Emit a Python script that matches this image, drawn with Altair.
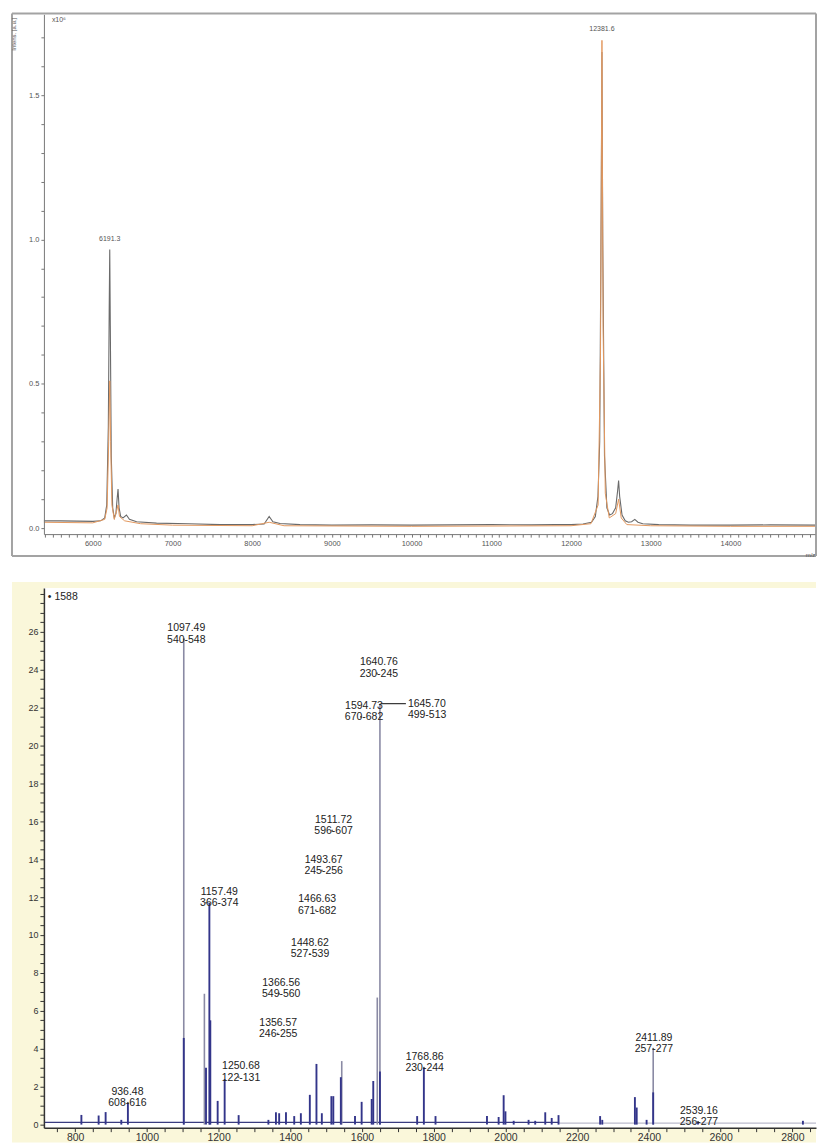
import altair as alt
import pandas as pd

# ---------------- top spectrum (linear MALDI, intensity x10^6) ----------------
gray_mz = [5387, 5600, 5800, 6000, 6100, 6150, 6175, 6195, 6206, 6213, 6220, 6232, 6250,
           6270, 6290, 6305, 6317, 6330, 6350, 6380, 6422, 6460, 6550, 6800, 7200, 7600,
           8000, 8150, 8213, 8260, 8350, 8600, 9000, 9500, 10000, 10500, 11000, 11500,
           11800, 12000, 12150, 12257, 12305, 12338, 12360, 12378, 12388, 12398, 12420,
           12450, 12484, 12520, 12560, 12585, 12597, 12610, 12640, 12680, 12720, 12760,
           12800, 12840, 12900, 13100, 13500, 14000, 14500, 15061]
gray_int = [0.025, 0.025, 0.024, 0.023, 0.025, 0.035, 0.08, 0.35, 0.75, 0.965, 0.7, 0.25, 0.07,
            0.035, 0.05, 0.1, 0.135, 0.07, 0.04, 0.035, 0.045, 0.03, 0.022, 0.017, 0.015, 0.012,
            0.012, 0.014, 0.04, 0.022, 0.016, 0.012, 0.01, 0.011, 0.01, 0.011, 0.012, 0.011,
            0.012, 0.012, 0.014, 0.02, 0.04, 0.11, 0.3, 1.1, 1.65, 1.0, 0.25,
            0.07, 0.045, 0.05, 0.07, 0.13, 0.165, 0.11, 0.045, 0.025, 0.02, 0.022,
            0.03, 0.02, 0.015, 0.012, 0.01, 0.01, 0.011, 0.01]
orange_mz = [5387, 6000, 6150, 6180, 6200, 6213, 6224, 6240, 6270, 6300, 6317, 6335, 6400,
             6600, 7000, 8000, 8213, 8400, 10000, 12000, 12250, 12340, 12370, 12388, 12402,
             12430, 12480, 12560, 12597, 12630, 12700, 13000, 14000, 15061]
orange_int = [0.02, 0.018, 0.03, 0.07, 0.3, 0.51, 0.3, 0.08, 0.03, 0.06, 0.08, 0.04, 0.025,
              0.015, 0.01, 0.008, 0.02, 0.008, 0.006, 0.008, 0.015, 0.08, 0.6, 1.69, 0.7,
              0.12, 0.035, 0.05, 0.1, 0.035, 0.012, 0.008, 0.006, 0.006]
top_label_text = ["6191.3", "12381.6"]
top_label_mz = [6213, 12388]
top_label_int = [0.965, 1.69]
top_x_ticks = list(range(5400, 15100, 100))
top_y_ticks = [round(i * 0.1, 1) for i in range(0, 18)]

# ---------------- bottom spectrum (tryptic peptides, x1588) ----------------
light_mz = [1103, 1160.5, 1543.5, 1642.6, 1650, 2412]
light_h = [25.6, 6.9, 3.35, 6.7, 22.2, 4.0]
dark_mz = [817.5, 865.6, 885.1, 928.8, 947.2, 1103, 1165, 1174.4, 1177, 1197.5, 1217, 1256,
           1339, 1360, 1369, 1388, 1411, 1429.5, 1454.5, 1473, 1488, 1514.6, 1520, 1541,
           1580.5, 1599, 1627, 1631.4, 1650, 1753.8, 1772.5, 1805, 1948.5, 1981, 1995,
           2000, 2023, 2064.5, 2083, 2111, 2129, 2148, 2264, 2270, 2361, 2366, 2393.6,
           2412, 2537, 2829.5]
dark_h = [0.51, 0.48, 0.66, 0.25, 1.15, 4.57, 3.0, 11.7, 5.5, 1.25, 2.4, 0.5,
          0.25, 0.65, 0.6, 0.65, 0.45, 0.6, 1.57, 3.2, 0.6, 1.5, 1.5, 2.5,
          0.45, 1.2, 1.35, 2.3, 2.8, 0.45, 3.0, 0.45, 0.45, 0.4, 1.55,
          0.7, 0.2, 0.25, 0.2, 0.65, 0.35, 0.5, 0.45, 0.25, 1.45, 0.9, 0.25,
          1.7, 0.15, 0.2]
lab_mass = ["936.48", "1097.49", "1157.49", "1250.68", "1356.57", "1366.56", "1448.62",
            "1466.63", "1493.67", "1511.72", "1594.73", "1640.76", "2411.89", "1768.86",
            "2539.16"]
lab_range = ["608-616", "540-548", "366-374", "122-131", "246-255", "549-560", "527-539",
             "671-682", "245-256", "596-607", "670-682", "230-245", "257-277", "230-244",
             "256-277"]
lab_text_mz = [946, 1110, 1202, 1262.6, 1366.4, 1374.7, 1455, 1475, 1493, 1520.7, 1605.6,
               1647, 2414, 1774.7, 2539.6]
lab_h = [1.15, 25.6, 11.7, 2.5, 4.8, 6.9, 9.0, 11.3, 13.4, 15.5, 21.5, 23.8, 4.0, 3.0, 0.15]
dot_mz = [947, 1103, 1165, 1256, 1364.4, 1369, 1454.5, 1471, 1488, 1516.6, 1597, 1641.7,
          2412, 1772.5, 2537]
side_label = ["1645.70\n499-513"]
side_label_mz = [1722.4]
side_from_mz = [1652]
side_h = [22.2]
scale_note = ["\u2022 1588"]
scale_note_mz = [724]
scale_note_h = [27.8]
base_mz_start = [713, 2150]
base_mz_end = [2150, 2866]
base_level = [0.12, 0.08]
bot_x_ticks = list(range(750, 2866, 50))
bot_y_ticks = [i * 0.5 for i in range(0, 57)]

FONT = "Liberation Sans"

# ---------------- top chart ----------------
TW, TH = 773, 521
tx = alt.X("mz:Q", scale=alt.Scale(domain=[5387, 15061], nice=False, zero=False),
           axis=alt.Axis(values=top_x_ticks, labelOverlap=False,
                         labelExpr="(datum.value % 1000 == 0 && datum.value < 15000) ? format(datum.value,'d') : ''",
                         tickSize=3, labelFontSize=7.5, labelColor="#555", domainColor="#777",
                         tickColor="#777", grid=False, labelPadding=2, labelFont=FONT,
                         title="m/z", titleFontSize=6, titleFontWeight="normal",
                         titleColor="#555", titleX=768, titleY=17, titleFont=FONT, zindex=2))
ty = alt.Y("v:Q", scale=alt.Scale(domain=[-0.021, 1.78], nice=False, zero=False),
           axis=alt.Axis(values=top_y_ticks, labelOverlap=False,
                         labelExpr="round(datum.value*10) % 5 == 0 ? format(datum.value,'.1f') : ''",
                         tickSize=3, labelFontSize=7.5, labelColor="#555", domainColor="#777",
                         tickColor="#777", grid=False, labelPadding=2, labelFont=FONT,
                         title="Intens. [a.u.]", titleFontSize=6, titleFontWeight="normal",
                         titleColor="#555", titleAngle=270, titleX=-30, titleY=3,
                         titleAlign="right", titleBaseline="middle", titleFont=FONT, zindex=2))

gdf = pd.DataFrame({"mz": gray_mz, "v": gray_int})
odf = pd.DataFrame({"mz": orange_mz, "v": orange_int})
tldf = pd.DataFrame({"mz": top_label_mz, "v": top_label_int, "t": top_label_text})
one = pd.DataFrame({"k": [0]})

gray_line = alt.Chart(gdf).mark_line(color="#6a6a6a", strokeWidth=1.1).encode(x=tx, y=ty)
orange_line = alt.Chart(odf).mark_line(color="#E3995F", strokeWidth=1.0).encode(x=tx, y=ty)
top_labels = alt.Chart(tldf).mark_text(fontSize=7, font=FONT, color="#555", baseline="bottom",
                                       dy=-8).encode(x=tx, y=ty, text="t:N")
x10 = alt.Chart(pd.DataFrame({"mz": [5487], "v": [1.759], "t": ["x10\u2076"]})).mark_text(
    fontSize=7, font=FONT, color="#555", align="left", baseline="middle").encode(x=tx, y=ty, text="t:N")
fcol = "#A3A3A3"
f1 = alt.Chart(one).mark_rule(color=fcol, strokeWidth=2).encode(
    x=alt.value(-32), y=alt.value(-1), y2=alt.value(543))
f2 = alt.Chart(one).mark_rule(color=fcol, strokeWidth=2).encode(
    x=alt.value(TW + 1), y=alt.value(-1), y2=alt.value(543))
f3 = alt.Chart(one).mark_rule(color=fcol, strokeWidth=2).encode(
    x=alt.value(-32), x2=alt.value(TW + 1), y=alt.value(-1))
f4 = alt.Chart(one).mark_rule(color=fcol, strokeWidth=2).encode(
    x=alt.value(-32), x2=alt.value(TW + 1), y=alt.value(543))

top = alt.layer(gray_line, orange_line, top_labels, x10, f1, f2, f3, f4).properties(
    width=TW, height=TH)

# ---------------- bottom chart ----------------
BW, BH = 774, 541
bx = alt.X("mz:Q", scale=alt.Scale(domain=[713, 2866], nice=False, zero=False),
           axis=alt.Axis(values=bot_x_ticks, labelOverlap=False,
                         labelExpr="datum.value % 200 == 0 ? format(datum.value,'d') : ''",
                         tickSize=4, labelFontSize=10.5, labelColor="#333", domainColor="#333",
                         tickColor="#333", grid=False, labelPadding=1, labelFont=FONT,
                         domainWidth=1.5, title=None, zindex=2))
by = alt.Y("h:Q", scale=alt.Scale(domain=[-0.16, 28.3], nice=False, zero=False),
           axis=alt.Axis(values=bot_y_ticks, labelOverlap=False,
                         labelExpr="(datum.value % 2 == 0 && datum.value < 27) ? format(datum.value,'d') : ''",
                         tickSize=4, labelFontSize=9, labelColor="#333", domainColor="#333",
                         tickColor="#333", grid=False, labelPadding=2, labelFont=FONT,
                         domainWidth=1.5, title=None, zindex=2))

ldf = pd.DataFrame({"mz": light_mz, "h": light_h, "b": [0.0] * len(light_mz)})
ddf = pd.DataFrame({"mz": dark_mz, "h": dark_h, "b": [0.0] * len(dark_mz)})
labdf = pd.DataFrame({"mz": lab_text_mz, "h": lab_h,
                      "t": [a + "\n" + b for a, b in zip(lab_mass, lab_range)]})
dotdf = pd.DataFrame({"mz": dot_mz, "h": lab_h})
conndf = pd.DataFrame({"mz": side_from_mz, "mz2": side_label_mz, "h": side_h})
sdf = pd.DataFrame({"mz": side_label_mz, "h": side_h, "t": side_label})
ndf = pd.DataFrame({"mz": scale_note_mz, "h": scale_note_h, "t": scale_note})
bdf = pd.DataFrame({"mz": base_mz_start, "mz2": base_mz_end, "h": base_level,
                    "c": ["#3a3c80", "#bbbbcc"]})

yellow = alt.Chart(one).mark_rect(color="#FAF7DA").encode(
    x=alt.value(-32), x2=alt.value(BW), y=alt.value(-6), y2=alt.value(BH + 15))
white = alt.Chart(one).mark_rect(color="#FFFFFF").encode(
    x=alt.value(0), x2=alt.value(BW), y=alt.value(0), y2=alt.value(BH))
baseline = alt.Chart(bdf).mark_rule(strokeWidth=1.2).encode(
    x=bx, x2="mz2:Q", y=by, color=alt.Color("c:N", scale=None))
light = alt.Chart(ldf).mark_rule(color="#8A8AA4", strokeWidth=1.6).encode(
    x=bx, y=by, y2="b:Q")
dark = alt.Chart(ddf).mark_rule(color="#33358A", strokeWidth=1.9).encode(
    x=bx, y=by, y2="b:Q")
dots = alt.Chart(dotdf).mark_square(size=3, color="#333", filled=True).encode(x=bx, y=by)
labels = alt.Chart(labdf).mark_text(fontSize=10.5, font=FONT, color="#222", baseline="bottom",
                                    lineBreak="\n", lineHeight=11.5, dy=-6).encode(
    x=bx, y=by, text="t:N")
conn = alt.Chart(conndf).mark_rule(color="#333", strokeWidth=1.2).encode(
    x=bx, x2="mz2:Q", y=by)
side = alt.Chart(sdf).mark_text(fontSize=10.5, font=FONT, color="#222", align="left",
                                baseline="middle", lineBreak="\n", lineHeight=11.5, dx=2).encode(
    x=bx, y=by, text="t:N")
note = alt.Chart(ndf).mark_text(fontSize=10.5, font=FONT, color="#222", align="left",
                                baseline="middle").encode(x=bx, y=by, text="t:N")

bottom = alt.layer(yellow, white, baseline, light, dark, dots, labels, conn, side, note).properties(
    width=BW, height=BH)

chart = alt.vconcat(top, bottom, spacing=25).properties(
    padding={"left": 3, "top": 3, "right": 0, "bottom": 0},
    background="white",
).configure_view(stroke=None)

chart.save("out.html", embed_options={"renderer": "svg", "actions": False})
